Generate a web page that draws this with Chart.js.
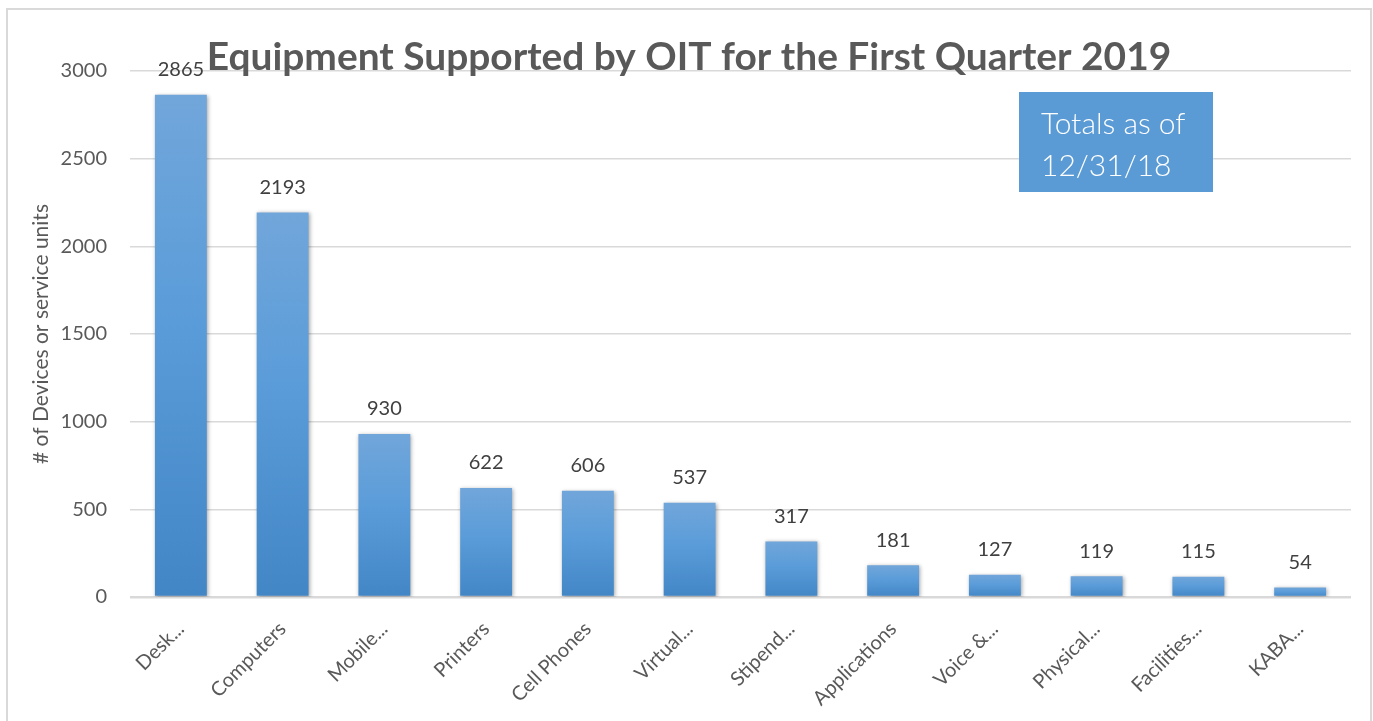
<!DOCTYPE html>
<html>
<head>
<meta charset="utf-8">
<script src="https://cdn.jsdelivr.net/npm/chart.js@4.4.1/dist/chart.umd.min.js"></script>
<style>
  html, body { margin: 0; padding: 0; background: #fff; }
  #wrap { position: relative; width: 1373px; height: 721px; }
</style>
</head>
<body>
<div id="wrap"><canvas id="chart"></canvas></div>
<script>
const categories = ['Desk...', 'Computers', 'Mobile...', 'Printers', 'Cell Phones', 'Virtual...',
  'Stipend...', 'Applications', 'Voice &...', 'Physical...', 'Facilities...', 'KABA...'];
const counts = [2865, 2193, 930, 622, 606, 537, 317, 181, 127, 119, 115, 54];
const yTicks = [0, 500, 1000, 1500, 2000, 2500, 3000];
const chartTitle = 'Equipment Supported by OIT for the First Quarter 2019';
const yTitle = '# of Devices or service units';
const noteLines = ['Totals as of', '12/31/18'];

const textGrey = '#595959';
const gridGrey = '#d9d9d9';

// per-bar vertical gradient, lighter on top like the Excel fill
function barFill(c) {
    const chart = c.chart;
    const y = chart.scales.y;
    if (!y || c.raw === undefined) return '#5b9bd5';
    const top = y.getPixelForValue(c.raw);
    const base = y.getPixelForValue(0);
    if (!isFinite(top) || !isFinite(base) || top === base) return '#5b9bd5';
    const g = chart.ctx.createLinearGradient(0, top, 0, base);
    g.addColorStop(0, '#71a6da');
    g.addColorStop(0.45, '#5a9cd9');
    g.addColorStop(1, '#4386c6');
    return g;
}

const decor = {
    id: 'decor',
    beforeDraw(chart) {
        const ctx = chart.ctx;
        ctx.save();
        ctx.strokeStyle = gridGrey;
        ctx.lineWidth = 2;
        ctx.strokeRect(7, 9, 1364, 730);
        ctx.restore();
    },
    beforeDatasetsDraw(chart) {
        const ctx = chart.ctx;
        ctx.save();
        ctx.shadowColor = 'rgba(0,0,0,0.35)';
        ctx.shadowBlur = 4;
        ctx.shadowOffsetX = 1;
        ctx.shadowOffsetY = 1;
    },
    afterDatasetsDraw(chart) {
        const ctx = chart.ctx;
        ctx.restore();
        // value labels above bars
        const meta = chart.getDatasetMeta(0);
        ctx.save();
        ctx.font = '20px Lato';
        ctx.fillStyle = '#404040';
        ctx.textAlign = 'center';
        ctx.textBaseline = 'middle';
        meta.data.forEach((bar, i) => {
            ctx.fillText(String(counts[i]), bar.x, bar.y - 25);
        });
        ctx.restore();
    },
    afterDraw(chart) {
        const ctx = chart.ctx;
        ctx.save();
        // title
        ctx.fillStyle = textGrey;
        ctx.textAlign = 'center';
        ctx.textBaseline = 'alphabetic';
        ctx.font = 'bold 34px Lato';
        const w = ctx.measureText(chartTitle).width;
        const size = 34 * 965 / w;
        ctx.font = 'bold ' + size.toFixed(1) + 'px Lato';
        ctx.fillText(chartTitle, 689, 70);
        // note box
        ctx.fillStyle = '#5b9bd5';
        ctx.fillRect(1019, 92, 194, 100);
        ctx.fillStyle = '#ffffff';
        ctx.textAlign = 'left';
        ctx.font = '300 30px Lato';
        ctx.fillText(noteLines[0], 1041, 134);
        ctx.fillText(noteLines[1], 1041, 176);
        ctx.restore();
    }
};

new Chart(document.getElementById('chart'), {
    type: 'bar',
    data: {
        labels: categories,
        datasets: [{
            data: counts,
            backgroundColor: barFill,
            borderWidth: 0,
            categoryPercentage: 1,
            barPercentage: 0.51
        }]
    },
    options: {
        responsive: true,
        maintainAspectRatio: false,
        animation: false,
        layout: { padding: { top: 71, right: 22, left: 0, bottom: 0 } },
        plugins: {
            legend: { display: false },
            tooltip: { enabled: false }
        },
        scales: {
            x: {
                grid: { display: false },
                border: { display: false },
                ticks: {
                    color: textGrey,
                    font: { family: 'Lato', size: 20 },
                    minRotation: 45,
                    maxRotation: 45,
                    padding: 12
                },
                afterFit(scale) { scale.height = 124; }
            },
            y: {
                min: 0,
                max: 3000,
                afterBuildTicks(scale) { scale.ticks = yTicks.map(v => ({ value: v })); },
                grid: {
                    color: gridGrey,
                    lineWidth: (c) => c.tick && c.tick.value === 0 ? 2.5 : 1.5,
                    drawTicks: false
                },
                border: { display: false },
                ticks: {
                    color: textGrey,
                    font: { family: 'Lato', size: 20 },
                    padding: 23,
                    callback: (v) => String(v)
                },
                title: {
                    display: true,
                    text: yTitle,
                    color: textGrey,
                    font: { family: 'Lato', size: 21 },
                    padding: { top: 29, bottom: 0 }
                },
                afterFit(scale) { scale.width = 130; }
            }
        }
    },
    plugins: [decor]
});
</script>
</body>
</html>
